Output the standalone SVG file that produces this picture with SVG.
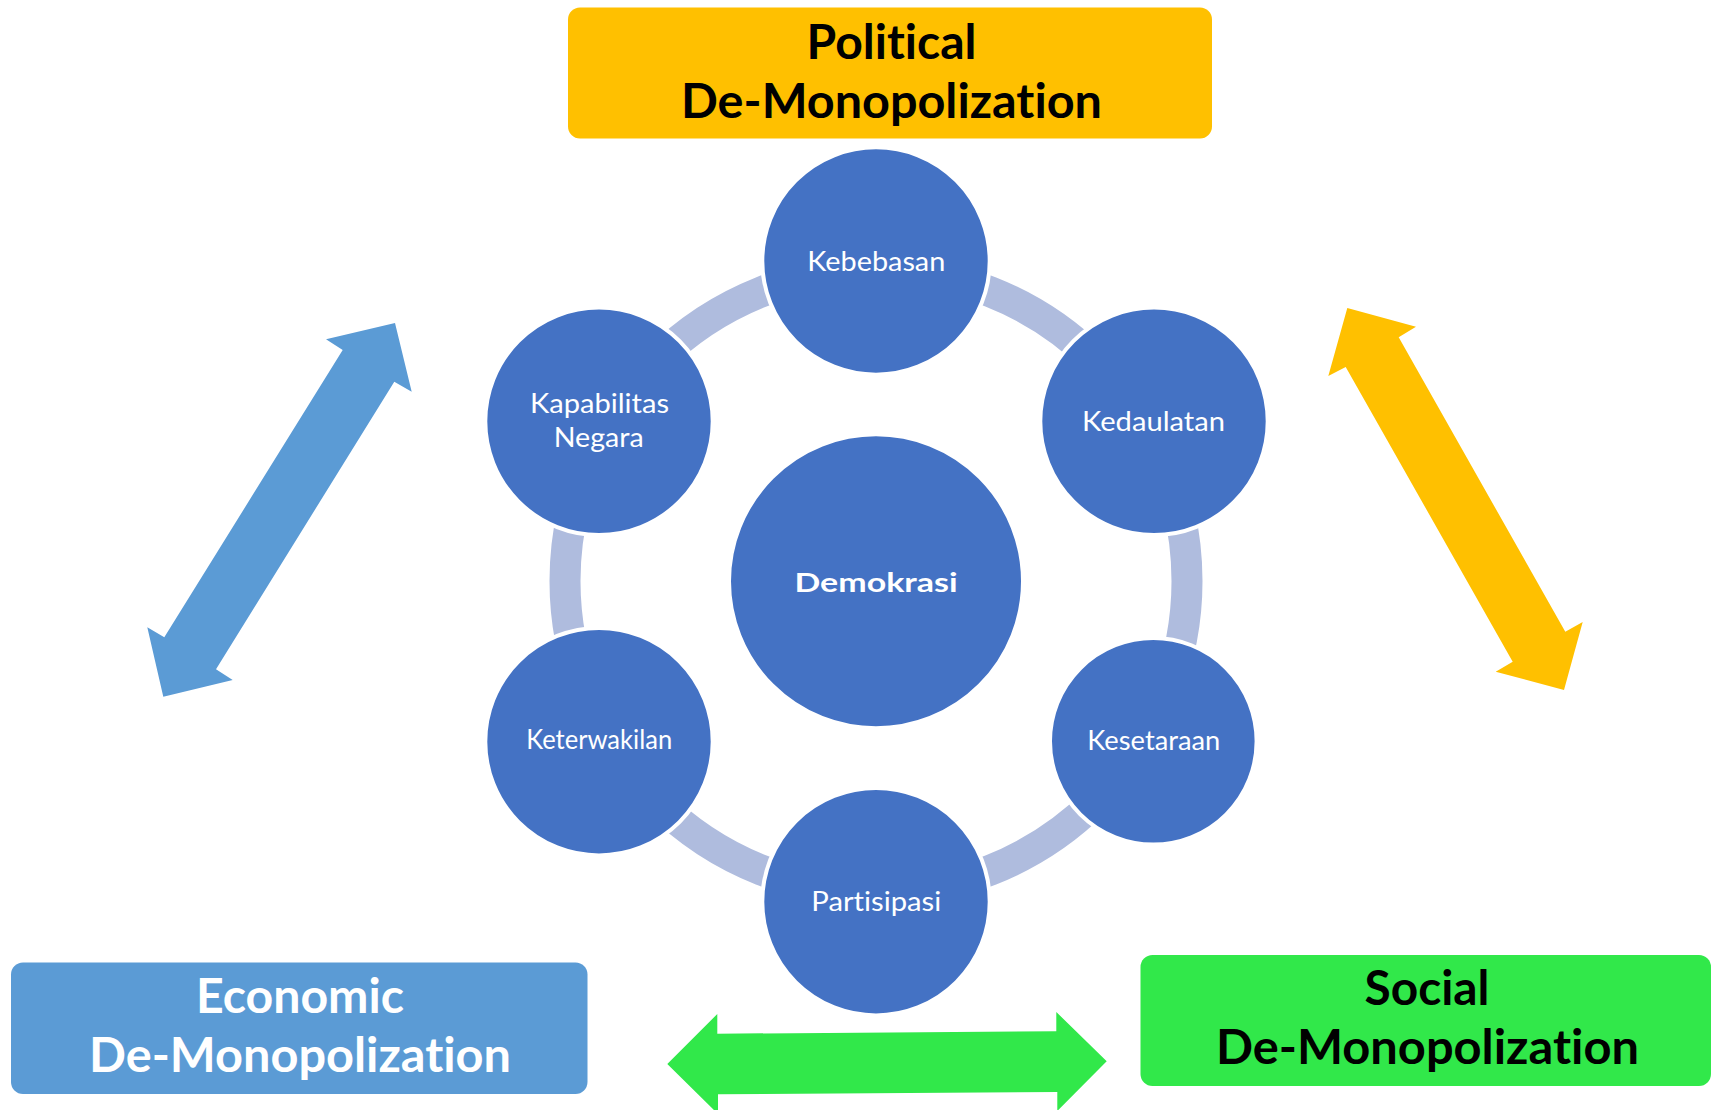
<svg xmlns="http://www.w3.org/2000/svg" width="1713" height="1110" viewBox="0 0 1713 1110">
<style>
text{font-variant-ligatures:none;font-feature-settings:"liga" 0,"clig" 0}
.node{fill:#4472C4;stroke:#FFFFFF;stroke-width:4}
.lbl{font-family:Lato,"Open Sans","Liberation Sans",sans-serif;font-size:27px;fill:#FFFFFF;text-anchor:middle}
.big{font-family:Lato,"Open Sans","Liberation Sans",sans-serif;font-weight:bold;font-size:47px;text-anchor:middle}
.ring{fill:none;stroke:#AFBCDE;stroke-width:31}
</style>
<rect width="1713" height="1110" fill="#FFFFFF"/>
<g id="connectors">
<circle class="ring" cx="876" cy="581" r="311"/>
<polygon id="arrow-economic-political" fill="#5B9BD5" points="395,323 411.7,391.7 394.3,381.7 216,669.3 232.7,680 163.3,696.7 147.3,627.3 164.3,637.3 342.7,350 326,339.3"/>
<polygon id="arrow-political-social" fill="#FFC000" points="1347.3,308 1416,326.7 1398.7,337.3 1565.3,631.7 1582.7,622 1564,690 1495.7,671.7 1512.7,661.7 1345.7,367 1328.3,376"/>
<polygon id="arrow-economic-social" fill="#31E84A" points="667.3,1064 717.3,1014 717.3,1033.7 1056.3,1031.3 1056.3,1012 1106.7,1061.3 1057.3,1111 1057.3,1092 718,1094.3 718,1114"/>
</g>
<g id="node-political">
<rect x="568" y="7.5" width="644" height="131" rx="12" fill="#FFC000"/>
<text class="big" x="891.5" y="59" fill="#000000" textLength="170" lengthAdjust="spacingAndGlyphs">Political</text>
<text class="big" x="891.5" y="117.5" fill="#000000" textLength="421" lengthAdjust="spacingAndGlyphs">De-Monopolization</text>
</g>
<g id="node-economic">
<rect x="11" y="962.5" width="576.5" height="131.5" rx="12" fill="#5B9BD5"/>
<text class="big" x="300" y="1012.5" fill="#FFFFFF" textLength="208" lengthAdjust="spacingAndGlyphs">Economic</text>
<text class="big" x="300" y="1071.5" fill="#FFFFFF" textLength="422" lengthAdjust="spacingAndGlyphs">De-Monopolization</text>
</g>
<g id="node-social">
<rect x="1140.5" y="955" width="570.5" height="131" rx="12" fill="#31E84A"/>
<text class="big" x="1427" y="1005" fill="#000000" textLength="125" lengthAdjust="spacingAndGlyphs">Social</text>
<text class="big" x="1427.5" y="1064.3" fill="#000000" textLength="423" lengthAdjust="spacingAndGlyphs">De-Monopolization</text>
</g>
<g id="node-demokrasi">
<circle class="node" cx="876" cy="581.3" r="147"/>
<text class="lbl" x="876" y="592" font-weight="bold" font-size="33" textLength="163" lengthAdjust="spacingAndGlyphs">Demokrasi</text>
</g>
<g id="node-kebebasan">
<circle class="node" cx="876" cy="261" r="113.7"/>
<text class="lbl" x="876.3" y="270.7" textLength="138" lengthAdjust="spacingAndGlyphs">Kebebasan</text>
</g>
<g id="node-kedaulatan">
<circle class="node" cx="1154" cy="421.3" r="113.7"/>
<text class="lbl" x="1153.5" y="431" textLength="143" lengthAdjust="spacingAndGlyphs">Kedaulatan</text>
</g>
<g id="node-kesetaraan">
<circle class="node" cx="1153.3" cy="741.3" r="103.3"/>
<text class="lbl" x="1153.8" y="750" textLength="133" lengthAdjust="spacingAndGlyphs">Kesetaraan</text>
</g>
<g id="node-partisipasi">
<circle class="node" cx="876" cy="901.7" r="113.7"/>
<text class="lbl" x="876.3" y="911" textLength="130" lengthAdjust="spacingAndGlyphs">Partisipasi</text>
</g>
<g id="node-keterwakilan">
<circle class="node" cx="599" cy="741.7" r="113.7"/>
<text class="lbl" x="599.2" y="749.3" textLength="146" lengthAdjust="spacingAndGlyphs">Keterwakilan</text>
</g>
<g id="node-kapabilitas">
<circle class="node" cx="599" cy="421.3" r="113.7"/>
<text class="lbl" x="599.5" y="412.7" textLength="139" lengthAdjust="spacingAndGlyphs">Kapabilitas</text>
<text class="lbl" x="598.7" y="447.3" textLength="90" lengthAdjust="spacingAndGlyphs">Negara</text>
</g>
</svg>
